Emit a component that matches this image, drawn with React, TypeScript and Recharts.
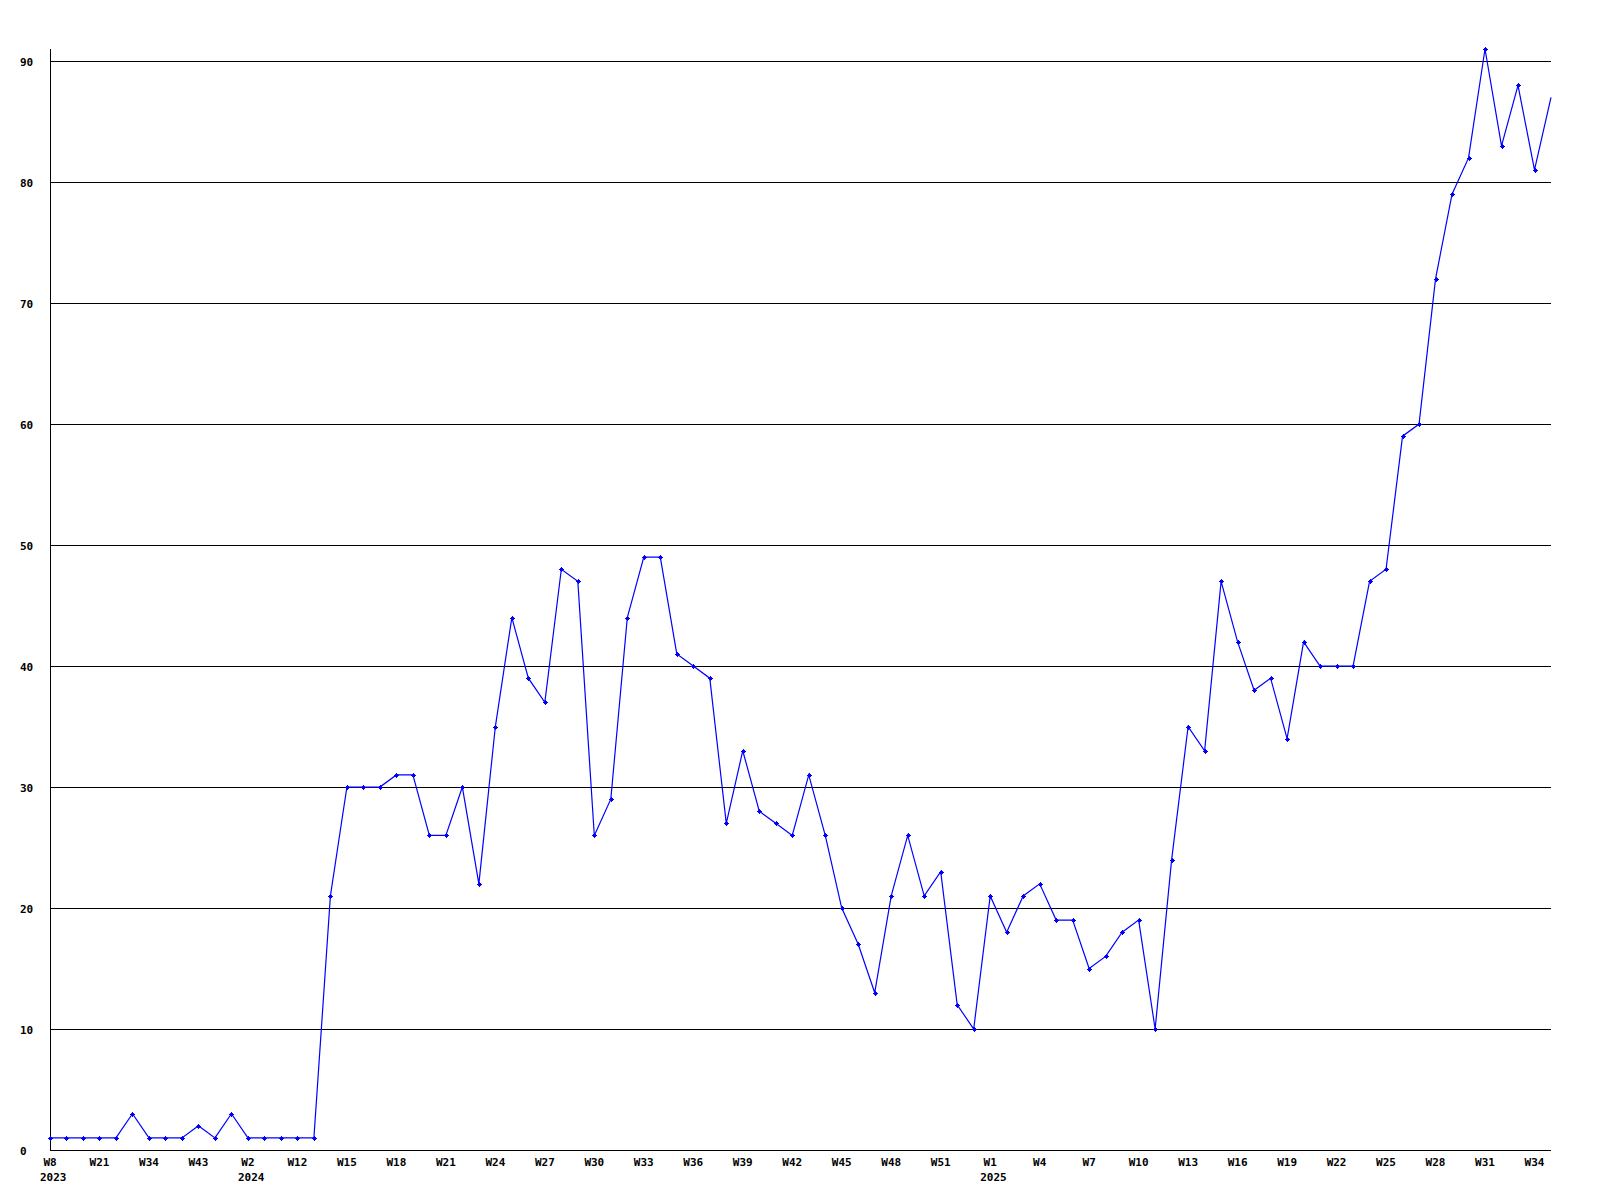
import { CartesianGrid, Line, LineChart, XAxis, YAxis } from "recharts";

// weekly counts, one per point
const values = [
  1, 1, 1, 1, 1, 3, 1, 1, 1, 2, 1, 3, 1, 1, 1, 1, 1, 21, 30, 30,
  30, 31, 31, 26, 26, 30, 22, 35, 44, 39, 37, 48, 47, 26, 29, 44, 49, 49, 41, 40,
  39, 27, 33, 28, 27, 26, 31, 26, 20, 17, 13, 21, 26, 21, 23, 12, 10, 21, 18, 21,
  22, 19, 19, 15, 16, 18, 19, 10, 24, 35, 33, 47, 42, 38, 39, 34, 42, 40, 40, 40,
  47, 48, 59, 60, 72, 79, 82, 91, 83, 88, 81, 87,
];

// one label every third point
const weekTicks = [
  "W8", "W21", "W34", "W43", "W2", "W12", "W15", "W18", "W21", "W24", "W27",
  "W30", "W33", "W36", "W39", "W42", "W45", "W48", "W51", "W1", "W4", "W7",
  "W10", "W13", "W16", "W19", "W22", "W25", "W28", "W31", "W34",
];
const yearTicks: [number, string][] = [
  [0, "2023"],
  [4, "2024"],
  [19, "2025"],
];
const yTicks = [0, 10, 20, 30, 40, 50, 60, 70, 80, 90];

const data = values.map((v, i) => ({ i, v }));

const font = {
  fontFamily: "'DejaVu Sans Mono', monospace",
  fontSize: 11,
  fontWeight: 700,
  fill: "#000",
};

function WeekTick({ x, y, payload }: any) {
  const n = Number(payload.value) / 3;
  const week = weekTicks[n] ?? "";
  const year = yearTicks.find((t) => t[0] === n);
  return (
    <g>
      <text x={x} y={y} dy={8} textAnchor="middle" style={font}>
        {week}
      </text>
      {year && (
        <text x={x - 10} y={y} dy={23} textAnchor="start" style={font}>
          {year[1]}
        </text>
      )}
    </g>
  );
}

function ValueTick({ y, payload }: any) {
  return (
    <text x={20} y={y} dy={5} textAnchor="start" style={font}>
      {payload.value}
    </text>
  );
}

function Marker({ cx, cy, index }: any) {
  if (index === values.length - 1) return <g key={index} />;
  return (
    <g key={index} shapeRendering="crispEdges">
      <rect x={Math.round(cx) - 1} y={Math.round(cy) - 1} width={3} height={3} fill="#0000ff" />
      <rect x={Math.round(cx) - 2} y={Math.round(cy)} width={5} height={1} fill="#0000ff" />
      <rect x={Math.round(cx)} y={Math.round(cy) - 2} width={1} height={5} fill="#0000ff" />
    </g>
  );
}

export default function App() {
  return (
    <div style={{ position: "absolute", left: 0, top: 0, background: "#fff" }}>
      <LineChart
        width={1600}
        height={1200}
        data={data}
        margin={{ top: 49, right: 49, left: 0, bottom: 0 }}
      >
        <CartesianGrid
          vertical={false}
          horizontalValues={yTicks}
          stroke="#000"
          strokeWidth={1}
          shapeRendering="crispEdges"
        />
        <XAxis
          dataKey="i"
          type="category"
          height={50}
          interval={2}
          tickLine={false}
          axisLine={{ stroke: "#000", shapeRendering: "crispEdges" }}
          tick={<WeekTick />}
        />
        <YAxis
          width={50}
          domain={[0, 91]}
          ticks={yTicks}
          tickLine={false}
          axisLine={{ stroke: "#000", shapeRendering: "crispEdges" }}
          tick={<ValueTick />}
        />
        <Line
          type="linear"
          dataKey="v"
          stroke="#0000ff"
          strokeWidth={1.2}
          dot={<Marker />}
          activeDot={false}
          isAnimationActive={false}
        />
      </LineChart>
    </div>
  );
}
